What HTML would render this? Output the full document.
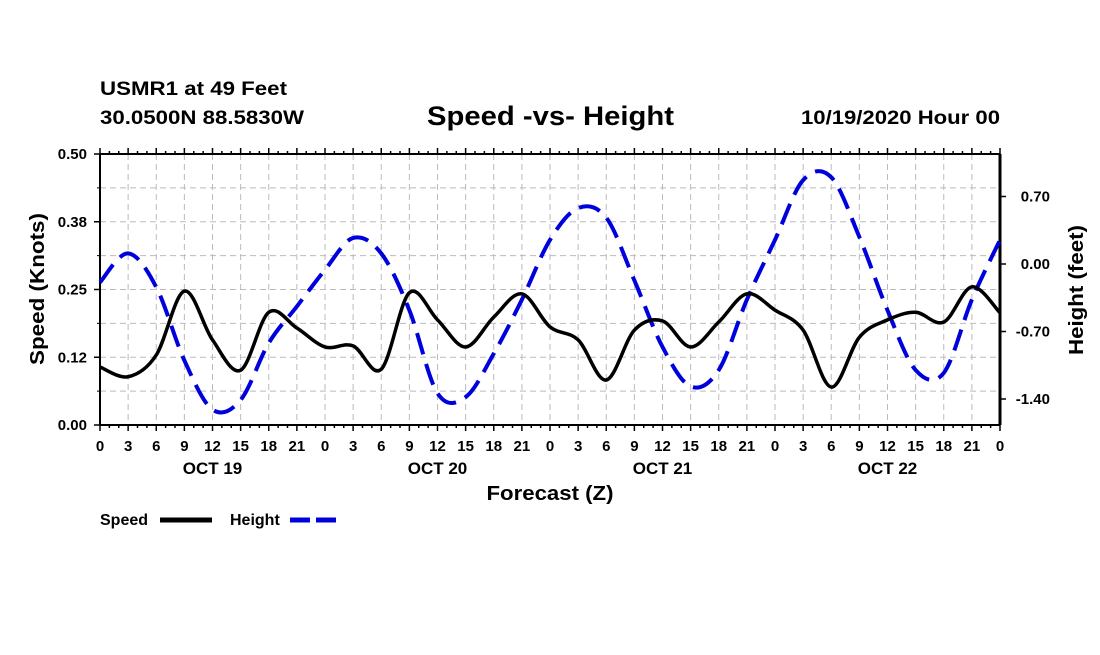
<!DOCTYPE html>
<html><head><meta charset="utf-8"><style>
body{margin:0;background:#fff;}
svg text{font-family:"Liberation Sans",sans-serif;font-weight:bold;fill:#000;}
</style></head><body>
<svg id="chart" width="1100" height="650" xmlns="http://www.w3.org/2000/svg">
<text x="100" y="95" font-size="19" textLength="187" lengthAdjust="spacingAndGlyphs">USMR1 at 49 Feet</text>
<text x="100" y="124" font-size="19" textLength="204" lengthAdjust="spacingAndGlyphs">30.0500N 88.5830W</text>
<text x="427" y="125" font-size="27" textLength="247" lengthAdjust="spacingAndGlyphs">Speed -vs- Height</text>
<text x="801" y="124" font-size="19" textLength="199" lengthAdjust="spacingAndGlyphs">10/19/2020 Hour 00</text>
<g id="grid"></g><g id="axes"></g><g id="series"></g>
<text transform="translate(44,289) rotate(-90)" font-size="20" text-anchor="middle" textLength="152" lengthAdjust="spacingAndGlyphs">Speed (Knots)</text>
<text transform="translate(1083,290) rotate(-90)" font-size="20" text-anchor="middle" textLength="130" lengthAdjust="spacingAndGlyphs">Height (feet)</text>
<text x="550" y="500" font-size="20" text-anchor="middle" textLength="127" lengthAdjust="spacingAndGlyphs">Forecast (Z)</text>
<g><text x="100" y="525" font-size="16">Speed</text><line x1="160" y1="520" x2="212" y2="520" stroke="#000" stroke-width="5"/></g>
<g><text x="230" y="525" font-size="16">Height</text><line x1="290" y1="520" x2="342" y2="520" stroke="#0000dd" stroke-width="5" stroke-dasharray="20,6"/></g>
</svg>
<script>
const hours=[0,3,6,9,12,15,18,21,24,27,30,33,36,39,42,45,48,51,54,57,60,63,66,69,72,75,78,81,84,87,90,93,96];
const speed=[0.107,0.089,0.129,0.247,0.157,0.101,0.208,0.179,0.144,0.146,0.103,0.244,0.194,0.144,0.199,0.242,0.181,0.157,0.083,0.175,0.192,0.144,0.190,0.242,0.212,0.175,0.070,0.162,0.194,0.208,0.190,0.255,0.207];
const height=[-0.19,0.11,-0.24,-1.0,-1.51,-1.41,-0.82,-0.44,-0.06,0.27,0.11,-0.48,-1.34,-1.38,-0.93,-0.37,0.25,0.58,0.48,-0.17,-0.86,-1.27,-1.10,-0.37,0.25,0.87,0.90,0.28,-0.48,-1.10,-1.13,-0.37,0.25];
const speedTicks=[0,0.125,0.25,0.375,0.5];
const speedTickLabels=["0.00","0.12","0.25","0.38","0.50"];
const heightTicks=[0.7,0,-0.7,-1.4];
const heightTickLabels=["0.70","0.00","-0.70","-1.40"];
const dayLabels=["OCT 19","OCT 20","OCT 21","OCT 22"];
const L=100,R=1000,T=154,B=425,NS="http://www.w3.org/2000/svg";
const xS=h=>L+h/96*(R-L);
const yS=v=>B-v/0.5*(B-T);
const yH=v=>264-v/0.7*67.5;
function mk(tag,attrs,parent){const e=document.createElementNS(NS,tag);for(const k in attrs)e.setAttribute(k,attrs[k]);parent.appendChild(e);return e;}
const grid=document.getElementById('grid'),axes=document.getElementById('axes'),ser=document.getElementById('series');
for(let h=3;h<96;h+=3){const l=mk('line',{x1:xS(h),x2:xS(h),y1:T,y2:B,stroke:'#bbb','stroke-dasharray':'6,4'},grid);

}
for(let i=1;i<8;i++){const v=i*0.0625;const l=mk('line',{x1:L,x2:R,y1:yS(v),y2:yS(v),stroke:'#bbb','stroke-dasharray':'6,4'},grid);

}
mk('line',{x1:L,x2:R,y1:T,y2:T,stroke:'#000','stroke-width':2},axes);
mk('line',{x1:L,x2:R,y1:B,y2:B,stroke:'#000','stroke-width':2},axes);
mk('line',{x1:L,x2:L,y1:T,y2:B,stroke:'#000','stroke-width':2},axes);
mk('line',{x1:R,x2:R,y1:T,y2:B,stroke:'#000','stroke-width':3},axes);
for(let h=0;h<=96;h+=1){const len=h%3==0?6:3;mk('line',{x1:xS(h),x2:xS(h),y1:B,y2:B+len,stroke:'#000','stroke-width':1.5},axes);mk('line',{x1:xS(h),x2:xS(h),y1:T,y2:T-len,stroke:'#000','stroke-width':1.5},axes);
if(h%3==0){const t=mk('text',{x:xS(h),y:451,'font-size':15,'text-anchor':'middle'},axes);t.textContent=String(h%24);

}}
dayLabels.forEach((d,i)=>{const t=mk('text',{x:xS(i*24+12),y:474,'font-size':17,'text-anchor':'middle'},axes);t.textContent=d;

});
speedTicks.forEach((v,i)=>{mk('line',{x1:L-6,x2:L,y1:yS(v),y2:yS(v),stroke:'#000','stroke-width':1.5},axes);const t=mk('text',{x:L-13,y:yS(v)+5,'font-size':15,'text-anchor':'end'},axes);t.textContent=speedTickLabels[i];

});
for(let i=1;i<8;i+=2){mk('line',{x1:L-3,x2:L,y1:yS(i*0.0625),y2:yS(i*0.0625),stroke:'#000'},axes);}
heightTicks.forEach((v,i)=>{mk('line',{x1:R,x2:R+6,y1:yH(v),y2:yH(v),stroke:'#000','stroke-width':1.5},axes);const t=mk('text',{x:1050,y:yH(v)+5,'font-size':15,'text-anchor':'end'},axes);t.textContent=heightTickLabels[i];

});
function smooth(pts){let d=`M${pts[0][0]},${pts[0][1]}`;for(let i=0;i<pts.length-1;i++){const p0=pts[i-1]||pts[i],p1=pts[i],p2=pts[i+1],p3=pts[i+2]||p2;
d+=` C${p1[0]+(p2[0]-p0[0])/6},${p1[1]+(p2[1]-p0[1])/6} ${p2[0]-(p3[0]-p1[0])/6},${p2[1]-(p3[1]-p1[1])/6} ${p2[0]},${p2[1]}`;}return d;}
const hp=mk('path',{d:smooth(hours.map((h,i)=>[xS(h),yH(height[i])])),fill:'none',stroke:'#0000dd','stroke-width':4,'stroke-dasharray':'22,10'},ser);


const sp=mk('path',{d:smooth(hours.map((h,i)=>[xS(h),yS(speed[i])])),fill:'none',stroke:'#000','stroke-width':3.5},ser);


</script>
</body></html>
